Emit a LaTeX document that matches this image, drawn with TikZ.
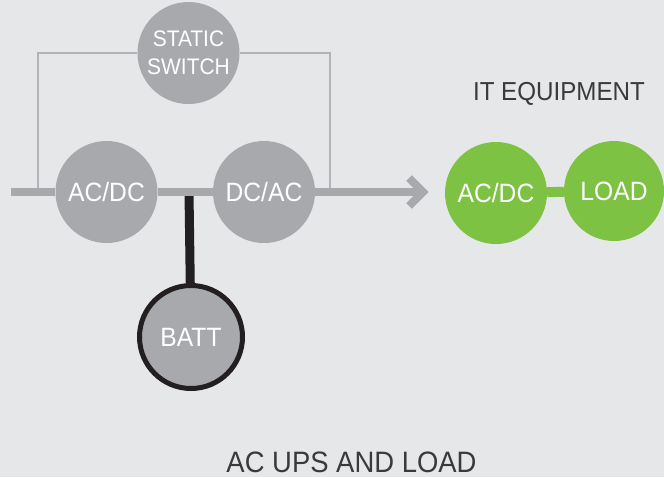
\documentclass[tikz,border=0pt]{standalone}
\usepackage{fontspec}
\setmainfont[FakeStretch=0.93]{Liberation Sans}
\usetikzlibrary{backgrounds}
\definecolor{bgc}{HTML}{E6E7E8}
\definecolor{grayc}{HTML}{A7A9AC}
\definecolor{linec}{HTML}{B1B3B6}
\definecolor{greenc}{HTML}{7DC242}
\definecolor{battc}{HTML}{231F20}
\definecolor{textc}{HTML}{3A3A3C}
\tikzset{
  unit/.style={circle, fill=grayc, text=white, inner sep=0pt, minimum size=102pt,
    font=\fontsize{26.5}{30}\selectfont},
  gunit/.style={unit, fill=greenc},
  battunit/.style={unit, draw=battc, line width=5pt, minimum size=103pt},
  mainline/.style={draw=grayc, line width=8.5pt},
  bypass/.style={draw=linec, line width=1.6pt},
  stem/.style={draw=battc, line width=9pt},
  glink/.style={draw=greenc, line width=10pt},
  chevron/.style={draw=grayc, line width=8pt, miter limit=10},
  caption/.style={text=textc, inner sep=0pt}
}
\begin{document}
\begin{tikzpicture}[x=1pt, y=-1pt]
\useasboundingbox (0,0) rectangle (664,477);
% nodes
\node[unit, align=center, font=\fontsize{22.5}{28.5}\selectfont] (ss) at (188.5,53) {STATIC\\SWITCH};
\node[unit] (acdc) at (106.5,192) {AC/DC};
\node[unit] (dcac) at (264,192) {DC/AC};
\node[battunit] (batt) at (191,337) {BATT};
\node[gunit] (gacdc) at (496,193) {AC/DC};
\node[gunit, minimum size=100pt] (load) at (614,191) {LOAD};
\node[caption, font=\fontsize{26}{30}\selectfont] (it) at (559,94) {IT EQUIPMENT};
\node[caption, font=\fontsize{29.5}{34}\selectfont] (title) at (351.5,462) {AC UPS AND LOAD};
% coordinates
\coordinate (in) at (10.5,192);
\coordinate (out) at (423,192);
\coordinate (bl) at (38,192);
\coordinate (br) at (330,192);
\coordinate (j) at (189,192);
\begin{scope}[on background layer]
  \fill[bgc] (0,0) rectangle (664,477);
  \draw[bypass] (bl) |- (ss.west);
  \draw[bypass] (ss.east) -| (br);
  \draw[stem] (j) -- (batt);
  \draw[mainline] (in) -- (acdc);
  \draw[mainline] (acdc) -- (dcac);
  \draw[mainline] (dcac) -- (out);
  \draw[chevron] ([shift={(-14,-14)}]out) -- (out) -- ([shift={(-14,14)}]out);
  \draw[glink] (gacdc) -- (load);
\end{scope}
\end{tikzpicture}
\end{document}
